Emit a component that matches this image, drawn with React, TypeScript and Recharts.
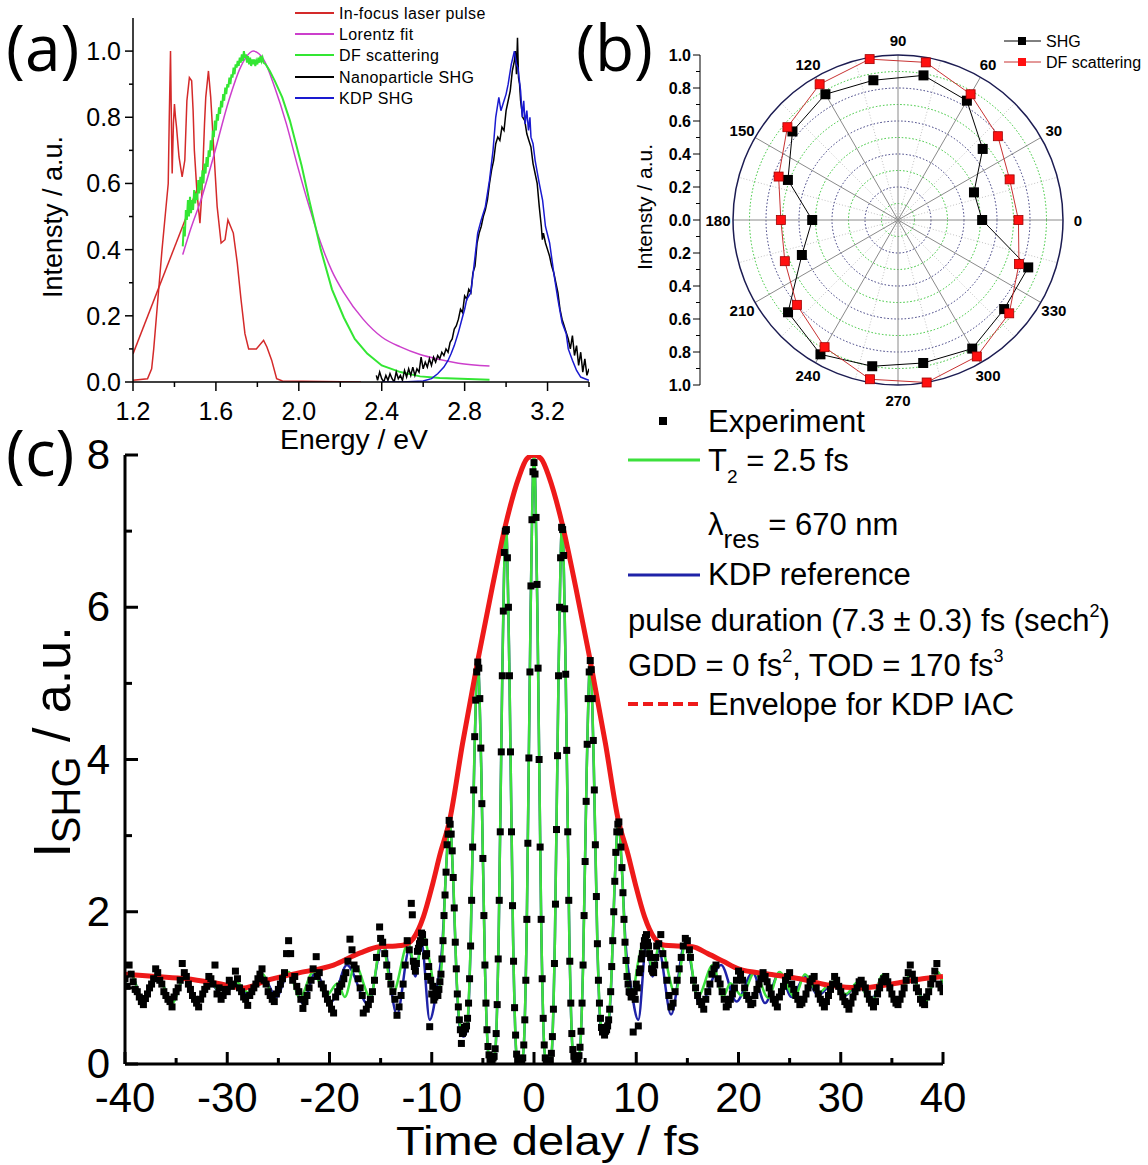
import React from 'react';
import {
  LineChart, Line, XAxis, YAxis, ComposedChart, Scatter,
  RadarChart, Radar, PolarGrid, PolarAngleAxis, PolarRadiusAxis,
} from 'recharts';

const FONT = '"Liberation Sans", Arial, Helvetica, sans-serif';
const LETTER_FONT = '"Open Sans", "Noto Sans", sans-serif';

// ---------------- Panel (a) data: x = energy (eV), y = intensity ----------------
const laserLine: number[][] = [[1.2, 0.085], [1.52, 0.6]];
const laserPulse: number[][] = [
  [1.2, 0.005], [1.27, 0.01], [1.29, 0.04], [1.3, 0.1], [1.32, 0.25], [1.34, 0.4], [1.355, 0.5],
  [1.37, 0.6], [1.375, 0.8], [1.381, 1.0], [1.386, 0.75], [1.389, 0.63], [1.395, 0.78], [1.4, 0.84],
  [1.405, 0.8], [1.41, 0.77], [1.422, 0.68], [1.437, 0.62], [1.45, 0.67], [1.46, 0.85], [1.472, 0.92],
  [1.483, 0.91], [1.49, 0.82], [1.496, 0.7], [1.509, 0.57], [1.523, 0.48], [1.533, 0.58], [1.545, 0.78],
  [1.551, 0.86], [1.564, 0.94], [1.575, 0.86], [1.588, 0.72], [1.606, 0.53], [1.625, 0.42], [1.644, 0.43],
  [1.658, 0.49], [1.671, 0.47], [1.684, 0.45], [1.703, 0.36], [1.721, 0.25], [1.74, 0.146], [1.758, 0.1],
  [1.795, 0.1], [1.83, 0.126], [1.846, 0.106], [1.869, 0.066], [1.893, 0.01], [1.921, 0.003], [2.3, 0.0],
];
const lorentzFit: number[][] = [
  [1.44, 0.385], [1.477, 0.46], [1.533, 0.56], [1.588, 0.68], [1.662, 0.85], [1.718, 0.95], [1.764, 0.995],
  [1.78, 1.0], [1.83, 0.975], [1.884, 0.89], [1.94, 0.78], [1.995, 0.65], [2.05, 0.53], [2.106, 0.42],
  [2.16, 0.335], [2.217, 0.27], [2.31, 0.19], [2.4, 0.136], [2.49, 0.106], [2.585, 0.083], [2.68, 0.068],
  [2.77, 0.057], [2.92, 0.048],
];
const dfScattering: number[][] = [
  [1.44, 0.41], [1.445, 0.47], [1.45, 0.44], [1.455, 0.52], [1.46, 0.49], [1.465, 0.55], [1.47, 0.5],
  [1.475, 0.56], [1.48, 0.51], [1.485, 0.55], [1.49, 0.52], [1.495, 0.58], [1.5, 0.54], [1.505, 0.57],
  [1.51, 0.55], [1.515, 0.61], [1.52, 0.57], [1.525, 0.62], [1.53, 0.58], [1.535, 0.64], [1.54, 0.6],
  [1.545, 0.66], [1.55, 0.63], [1.555, 0.68], [1.56, 0.65], [1.565, 0.7], [1.57, 0.68], [1.575, 0.73],
  [1.58, 0.7], [1.585, 0.76], [1.59, 0.74], [1.595, 0.79], [1.6, 0.76], [1.605, 0.81], [1.61, 0.79],
  [1.615, 0.83], [1.62, 0.81], [1.625, 0.85], [1.63, 0.83], [1.635, 0.87], [1.64, 0.85], [1.645, 0.89],
  [1.65, 0.87], [1.655, 0.9], [1.66, 0.89], [1.665, 0.92], [1.67, 0.9], [1.675, 0.93], [1.68, 0.92],
  [1.685, 0.95], [1.69, 0.93], [1.695, 0.96], [1.7, 0.95], [1.705, 0.97], [1.71, 0.955], [1.715, 0.98],
  [1.72, 0.965], [1.725, 0.99], [1.73, 0.97], [1.735, 1.0], [1.74, 0.98], [1.745, 0.99], [1.75, 0.965],
  [1.755, 0.985], [1.76, 0.96], [1.765, 0.98], [1.77, 0.955], [1.775, 0.975], [1.78, 0.96], [1.785, 0.975],
  [1.79, 0.955], [1.795, 0.97], [1.8, 0.96], [1.805, 0.98], [1.81, 0.965], [1.815, 0.985], [1.82, 0.97],
  [1.825, 0.98], [1.83, 0.965], [1.84, 0.96], [1.85, 0.95], [1.86, 0.94], [1.884, 0.91], [1.92, 0.86],
  [1.957, 0.79], [2.013, 0.655], [2.05, 0.55], [2.08, 0.47], [2.106, 0.4], [2.16, 0.28], [2.217, 0.195],
  [2.27, 0.13], [2.33, 0.086], [2.4, 0.05], [2.49, 0.03], [2.585, 0.017], [2.68, 0.012], [2.92, 0.007],
];
const nanoSHG: number[][] = [
  [2.374, 0.02], [2.38, 0.005], [2.39, 0.03], [2.4, 0.01], [2.41, 0.0], [2.42, 0.02], [2.43, 0.005],
  [2.44, 0.025], [2.45, 0.01], [2.46, 0.0], [2.47, 0.03], [2.48, 0.01], [2.49, 0.02], [2.5, 0.005],
  [2.51, 0.035], [2.52, 0.015], [2.53, 0.04], [2.54, 0.02], [2.55, 0.045], [2.56, 0.02], [2.57, 0.04],
  [2.58, 0.03], [2.59, 0.075], [2.6, 0.04], [2.61, 0.06], [2.62, 0.045], [2.63, 0.07], [2.64, 0.05],
  [2.65, 0.075], [2.66, 0.06], [2.67, 0.08], [2.68, 0.07], [2.69, 0.09], [2.7, 0.08], [2.71, 0.1],
  [2.72, 0.09], [2.73, 0.12], [2.74, 0.13], [2.75, 0.16], [2.76, 0.17], [2.77, 0.19], [2.78, 0.22],
  [2.79, 0.21], [2.8, 0.26], [2.81, 0.25], [2.82, 0.28], [2.83, 0.27], [2.84, 0.33], [2.85, 0.35],
  [2.86, 0.42], [2.87, 0.45], [2.88, 0.47], [2.89, 0.5], [2.9, 0.52], [2.91, 0.55], [2.92, 0.6],
  [2.93, 0.64], [2.94, 0.67], [2.95, 0.72], [2.96, 0.74], [2.97, 0.73], [2.98, 0.77], [2.99, 0.76],
  [3.0, 0.82], [3.01, 0.85], [3.02, 0.88], [3.03, 0.94], [3.04, 0.97], [3.045, 1.0], [3.05, 0.93],
  [3.055, 1.04], [3.06, 0.92], [3.065, 0.9], [3.07, 0.85], [3.08, 0.8], [3.09, 0.79], [3.1, 0.75],
  [3.11, 0.73], [3.12, 0.71], [3.13, 0.66], [3.14, 0.63], [3.15, 0.6], [3.16, 0.53], [3.17, 0.47],
  [3.175, 0.43], [3.18, 0.45], [3.19, 0.42], [3.2, 0.4], [3.21, 0.38], [3.22, 0.35], [3.23, 0.33],
  [3.24, 0.3], [3.25, 0.27], [3.26, 0.22], [3.27, 0.19], [3.28, 0.17], [3.29, 0.15], [3.3, 0.13],
  [3.31, 0.1], [3.32, 0.14], [3.33, 0.08], [3.34, 0.11], [3.35, 0.05], [3.36, 0.09], [3.37, 0.03],
  [3.38, 0.07], [3.39, 0.02], [3.4, 0.04],
];
const kdpSHG: number[][] = [
  [2.4, 0.0], [2.5, 0.0], [2.6, 0.003], [2.64, 0.01], [2.67, 0.025], [2.7, 0.045], [2.72, 0.065],
  [2.735, 0.086], [2.75, 0.11], [2.77, 0.15], [2.79, 0.197], [2.8, 0.22], [2.81, 0.25], [2.83, 0.27],
  [2.845, 0.35], [2.863, 0.45], [2.88, 0.49], [2.9, 0.53], [2.92, 0.61], [2.937, 0.7], [2.95, 0.8],
  [2.965, 0.86], [2.975, 0.82], [2.985, 0.84], [3.0, 0.87], [3.01, 0.9], [3.025, 0.96], [3.04, 1.0],
  [3.05, 0.96], [3.057, 0.95], [3.07, 0.88], [3.078, 0.8], [3.085, 0.85], [3.092, 0.78], [3.1, 0.82],
  [3.108, 0.76], [3.115, 0.8], [3.12, 0.74], [3.13, 0.72], [3.14, 0.67], [3.16, 0.6], [3.176, 0.55],
  [3.19, 0.47], [3.21, 0.42], [3.23, 0.33], [3.25, 0.25], [3.27, 0.18], [3.29, 0.146], [3.3, 0.1],
  [3.32, 0.066], [3.34, 0.035], [3.36, 0.015], [3.38, 0.01], [3.4, 0.005],
];
const aXTicks = [1.2, 1.4, 1.6, 1.8, 2.0, 2.2, 2.4, 2.6, 2.8, 3.0, 3.2, 3.4];
const aYTicks = [0, 0.1, 0.2, 0.3, 0.4, 0.5, 0.6, 0.7, 0.8, 0.9, 1.0];

// ---------------- Panel (b) data: polar ----------------
const polarAngles = [0, 20, 40, 60, 80, 100, 120, 140, 160, 180, 200, 220, 240, 260, 280, 300, 320, 340];
const shgPolar = [0.51, 0.49, 0.67, 0.835, 0.89, 0.86, 0.88, 0.835, 0.71, 0.52, 0.62, 0.87, 0.94, 0.9, 0.88, 0.9, 0.84, 0.84];
const dfPolar = [0.73, 0.72, 0.79, 0.88, 0.97, 0.99, 0.95, 0.875, 0.77, 0.71, 0.73, 0.8, 0.89, 0.98, 1.0, 0.955, 0.88, 0.78];
const angleTicks = [0, 30, 60, 90, 120, 150, 180, 210, 240, 270, 300, 330];
const minorSpokes = [15, 45, 75, 105, 135, 165, 195, 225, 255, 285, 315, 345];
const greenRings = [0.1, 0.3, 0.5, 0.7, 0.9];
const navyRings = [0.2, 0.4, 0.6, 0.8];
const bAxisTicks = [-1, -0.9, -0.8, -0.7, -0.6, -0.5, -0.4, -0.3, -0.2, -0.1, 0, 0.1, 0.2, 0.3, 0.4, 0.5, 0.6, 0.7, 0.8, 0.9, 1];

// ---------------- Panel (c) data: x = time delay (fs), y = I_SHG ----------------
const experimentA: number[][] = [
  [-40.0, 1.12], [-39.6, 1.3], [-39.2, 1.08], [-38.8, 0.95], [-38.4, 0.82], [-38.0, 0.86], [-37.6, 1.0],
  [-37.2, 1.12], [-36.8, 1.2], [-36.4, 1.05], [-36.0, 0.9], [-35.6, 0.82], [-35.2, 0.88], [-34.8, 1.0],
  [-34.4, 1.32], [-34.0, 1.15], [-33.6, 0.98], [-33.2, 0.85], [-32.8, 0.75], [-32.4, 0.92], [-32.0, 1.02],
  [-31.6, 1.12], [-31.2, 1.3], [-30.8, 1.0], [-30.4, 0.9], [-30.0, 0.95], [-29.6, 1.02], [-29.2, 1.22],
  [-28.8, 1.0], [-28.4, 0.88], [-28.0, 0.77], [-27.6, 0.95], [-27.2, 1.05], [-26.8, 1.18], [-26.4, 1.1],
  [-26.0, 0.95], [-25.6, 0.85], [-25.2, 0.92], [-24.8, 1.05], [-24.4, 1.2], [-24.0, 1.62], [-23.8, 1.45],
  [-23.4, 1.15], [-23.0, 0.95], [-22.6, 0.73], [-22.2, 0.9], [-21.8, 1.1], [-21.3, 1.41], [-21.0, 1.2],
  [-20.6, 1.0], [-20.2, 0.85], [-19.8, 0.72], [-19.6, 0.67], [-19.2, 0.95], [-18.8, 1.05], [-18.4, 1.2],
  [-18.0, 1.64], [-17.8, 1.5], [-17.4, 1.25], [-17.0, 1.0], [-16.7, 0.67], [-16.4, 0.72], [-16.0, 0.85],
  [-15.6, 1.1], [-15.1, 1.8], [-14.8, 1.6], [-14.4, 1.3], [-14.0, 1.05], [-13.6, 0.85], [-13.4, 0.64],
  [-13.0, 0.9], [-12.6, 1.3], [-12.2, 1.5], [-12.0, 2.11], [-11.9, 1.96],
  [-11.8, 1.35], [-11.6, 1.22], [-11.4, 1.48], [-11.2, 1.58], [-11.0, 1.72], [-10.8, 1.6], [-10.6, 1.42],
  [-10.4, 1.15], [-10.2, 0.49], [-10.0, 0.92], [-9.8, 0.84], [-9.6, 0.95], [-9.4, 0.9], [-9.2, 1.08],
  [-9.0, 1.38], [-8.8, 1.95], [-8.6, 2.52], [-8.4, 3.02], [-8.2, 3.15], [-8.0, 2.8], [-7.8, 2.05],
  [-7.6, 1.25], [-7.4, 0.75], [-7.2, 0.45], [-7.1, 0.27], [-7.0, 0.4], [-6.8, 0.48], [-6.6, 0.5],
  [-6.4, 0.8], [-6.2, 1.55], [-6.0, 2.85], [-5.8, 4.3], [-5.6, 5.15], [-5.4, 5.2], [-5.2, 4.15],
  [-5.0, 2.7], [-4.8, 1.3], [-4.6, 0.45], [-4.4, 0.12], [-4.2, 0.04], [-4.0, 0.08], [-3.8, 0.2],
  [-3.6, 0.78], [-3.4, 2.15], [-3.2, 4.1], [-3.0, 5.95], [-2.8, 7.0], [-2.6, 6.65], [-2.4, 5.1],
  [-2.2, 3.05], [-2.0, 1.35], [-1.8, 0.38], [-1.6, 0.05], [-1.4, 0.02], [-1.2, 0.03], [-1.0, 0.25],
  [-0.8, 1.1], [-0.6, 2.9], [-0.4, 5.15], [-0.2, 7.15], [0.0, 7.9],
  [0.1, 7.75], [0.3, 6.3], [0.5, 4.0], [0.7, 1.9], [0.9, 0.6], [1.1, 0.08], [1.3, 0.02], [1.5, 0.03],
  [1.7, 0.14], [1.9, 0.72], [2.1, 2.1], [2.3, 4.05], [2.5, 6.0], [2.7, 7.05], [2.9, 6.68], [3.1, 5.12],
  [3.3, 3.05], [3.5, 1.35], [3.7, 0.4], [3.9, 0.1], [4.1, 0.05], [4.3, 0.07], [4.5, 0.22], [4.7, 0.8],
  [4.9, 1.95], [5.1, 3.45], [5.3, 4.8], [5.5, 5.3], [5.7, 4.8], [5.9, 3.6], [6.1, 2.2], [6.3, 1.1],
  [6.5, 0.6], [6.7, 0.42], [6.9, 0.38], [7.1, 0.45], [7.3, 0.58], [7.5, 0.95], [7.7, 1.62], [7.9, 2.4],
  [8.1, 3.05], [8.3, 3.18], [8.5, 2.85], [8.7, 2.25], [8.9, 1.6], [9.1, 1.15], [9.3, 0.95], [9.5, 0.88],
  [9.7, 0.42], [9.9, 0.85], [10.1, 1.0], [10.3, 1.2], [10.5, 1.38], [10.7, 1.55], [10.9, 1.66], [11.1, 1.6],
  [11.3, 1.45], [11.5, 1.25], [11.7, 1.2], [11.9, 1.4],
  [12.2, 1.58], [12.6, 1.45], [13.0, 1.1], [13.4, 0.75], [13.8, 0.95], [14.2, 1.25], [14.6, 1.55],
  [15.0, 1.62], [15.3, 1.4], [15.6, 1.1], [16.0, 0.9], [16.4, 0.78], [16.8, 0.85], [17.2, 1.05],
  [17.6, 1.25], [18.0, 1.12], [18.4, 0.95], [18.8, 0.75], [19.2, 0.85], [19.6, 1.0], [20.0, 1.22],
  [20.4, 1.1], [20.8, 0.9], [21.2, 0.78], [21.6, 0.9], [22.0, 1.05], [22.4, 1.2], [22.8, 1.08],
  [23.2, 0.92], [23.6, 0.8], [24.0, 0.88], [24.4, 1.02], [24.8, 1.15], [25.2, 1.05], [25.6, 0.9],
  [26.0, 0.78], [26.4, 0.85], [26.8, 1.0], [27.2, 1.12], [27.6, 1.0], [28.0, 0.85], [28.4, 0.75],
  [28.8, 0.9], [29.2, 1.05], [29.6, 1.1], [30.0, 0.95], [30.4, 0.82], [30.8, 0.72], [31.2, 0.88],
  [31.6, 1.0], [32.0, 1.1], [32.4, 1.0], [32.8, 0.85], [33.2, 0.75], [33.6, 0.92], [34.0, 1.08],
  [34.4, 1.15], [34.8, 1.0], [35.2, 0.85], [35.6, 0.78], [36.0, 0.92], [36.4, 1.1], [36.8, 1.3],
  [37.2, 1.1], [37.6, 0.95], [38.0, 0.8], [38.4, 0.88], [38.8, 1.05], [39.2, 1.22], [39.6, 1.05], [40.0, 0.95],
];
const experimentB: number[][] = [
  [-39.8, 1.02], [-39.4, 1.18], [-39.0, 0.98], [-38.6, 0.88], [-38.2, 0.78], [-37.8, 0.92], [-37.4, 1.05],
  [-37.0, 1.25], [-36.6, 1.1], [-36.2, 0.95], [-35.8, 0.85], [-35.4, 0.75], [-35.0, 0.95], [-34.6, 1.1],
  [-34.2, 1.2], [-33.8, 1.05], [-33.4, 0.9], [-33.0, 0.8], [-32.6, 0.85], [-32.2, 0.98], [-31.8, 1.15],
  [-31.4, 1.05], [-31.0, 0.92], [-30.6, 0.85], [-30.2, 0.98], [-29.8, 1.1], [-29.4, 1.05], [-29.0, 1.12],
  [-28.6, 0.95], [-28.2, 0.85], [-27.8, 0.9], [-27.4, 1.0], [-27.0, 1.12], [-26.6, 1.25], [-26.2, 1.05],
  [-25.8, 0.9], [-25.4, 0.82], [-25.0, 0.98], [-24.6, 1.12], [-24.2, 1.45], [-23.6, 1.1], [-23.2, 1.02],
  [-22.8, 0.85], [-22.4, 0.82], [-22.0, 1.0], [-21.6, 1.25], [-21.2, 1.15], [-20.8, 1.05], [-20.4, 0.92],
  [-20.0, 0.8], [-19.4, 0.88], [-19.0, 1.02], [-18.6, 1.12], [-18.2, 1.35], [-17.6, 1.3], [-17.2, 1.12],
  [-16.8, 0.9], [-16.2, 0.78], [-15.8, 0.95], [-15.4, 1.4], [-15.0, 1.65], [-14.6, 1.45], [-14.2, 1.15],
  [-13.8, 0.95], [-13.2, 0.75], [-12.8, 1.05], [-12.4, 1.62],
  [-11.7, 1.28], [-11.5, 1.32], [-11.3, 1.52], [-11.1, 1.62], [-10.9, 1.7], [-10.7, 1.6], [-10.5, 1.45],
  [-10.3, 1.28], [-10.1, 1.1], [-9.9, 1.02], [-9.7, 0.88], [-9.5, 0.95], [-9.3, 0.98], [-9.1, 1.18],
  [-8.9, 1.62], [-8.7, 2.22], [-8.5, 2.88], [-8.3, 3.2], [-8.1, 3.02], [-7.9, 2.45], [-7.7, 1.6],
  [-7.5, 0.92], [-7.3, 0.58], [-6.9, 0.42], [-6.7, 0.46], [-6.5, 0.6], [-6.3, 1.12], [-6.1, 2.15],
  [-5.9, 3.6], [-5.7, 4.78], [-5.5, 5.28], [-5.3, 4.8], [-5.1, 3.42], [-4.9, 1.95], [-4.7, 0.8],
  [-4.5, 0.23], [-4.3, 0.06], [-4.1, 0.05], [-3.9, 0.1], [-3.7, 0.4], [-3.5, 1.38], [-3.3, 3.05],
  [-3.1, 5.1], [-2.9, 6.72], [-2.7, 7.02], [-2.5, 6.0], [-2.3, 4.1], [-2.1, 2.08], [-1.9, 0.74],
  [-1.7, 0.13], [-1.5, 0.02], [-1.3, 0.01], [-1.1, 0.08], [-0.9, 0.58], [-0.7, 1.9], [-0.5, 4.02],
  [-0.3, 6.28], [-0.1, 7.78],
  [0.2, 7.18], [0.4, 5.2], [0.6, 2.85], [0.8, 1.12], [1.0, 0.25], [1.2, 0.02], [1.4, 0.0], [1.6, 0.05],
  [1.8, 0.36], [2.0, 1.32], [2.2, 3.08], [2.4, 5.1], [2.6, 6.65], [2.8, 7.02], [3.0, 5.98], [3.2, 4.12],
  [3.4, 2.15], [3.6, 0.8], [3.8, 0.19], [4.0, 0.06], [4.2, 0.05], [4.4, 0.11], [4.6, 0.43], [4.8, 1.3],
  [5.0, 2.66], [5.2, 4.2], [5.4, 5.15], [5.6, 5.18], [5.8, 4.25], [6.0, 2.88], [6.2, 1.58], [6.4, 0.8],
  [6.6, 0.48], [6.8, 0.44], [7.0, 0.43], [7.2, 0.5], [7.4, 0.72], [7.6, 1.28], [7.8, 2.0], [8.0, 2.78],
  [8.2, 3.15], [8.4, 3.05], [8.6, 2.58], [8.8, 1.9], [9.0, 1.36], [9.2, 1.05], [9.4, 0.94], [9.6, 0.92],
  [9.8, 0.95], [10.0, 1.05], [10.2, 0.5], [10.4, 1.25], [10.6, 1.45], [10.8, 1.62], [11.0, 1.7],
  [11.2, 1.55], [11.4, 1.4], [11.6, 1.22], [11.8, 1.3], [12.0, 1.55],
  [12.4, 1.7], [12.8, 1.3], [13.2, 0.9], [13.6, 0.8], [14.0, 1.1], [14.4, 1.4], [14.8, 1.65], [15.2, 1.5],
  [15.8, 1.0], [16.2, 0.82], [16.6, 0.72], [17.0, 0.95], [17.4, 1.18], [17.8, 1.3], [18.2, 1.05],
  [18.6, 0.85], [19.0, 0.78], [19.4, 0.92], [19.8, 1.1], [20.2, 1.18], [20.6, 1.0], [21.0, 0.85],
  [21.4, 0.8], [21.8, 0.98], [22.2, 1.12], [22.6, 1.15], [23.0, 1.0], [23.4, 0.85], [23.8, 0.75],
  [24.2, 0.95], [24.6, 1.1], [25.0, 1.2], [25.4, 0.98], [25.8, 0.85], [26.2, 0.8], [26.6, 0.92],
  [27.0, 1.08], [27.4, 1.15], [27.8, 0.92], [28.2, 0.8], [28.6, 0.82], [29.0, 0.98], [29.4, 1.15],
  [29.8, 1.02], [30.2, 0.88], [30.6, 0.78], [31.0, 0.8], [31.4, 0.95], [31.8, 1.08], [32.2, 1.05],
  [32.6, 0.92], [33.0, 0.8], [33.4, 0.82], [33.8, 1.0], [34.2, 1.12], [34.6, 1.08], [35.0, 0.92],
  [35.4, 0.8], [35.8, 0.85], [36.2, 1.0], [36.6, 1.2], [37.0, 1.18], [37.4, 1.0], [37.8, 0.85],
  [38.2, 0.78], [38.6, 0.95], [39.0, 1.12], [39.4, 1.32], [39.8, 1.0],
];
const t2Fit: number[][] = [
  [-40, 1.06], [-39.5, 1.21], [-38.2, 0.8], [-36.9, 1.19], [-35.4, 0.8], [-34.1, 1.17], [-33.0, 0.8],
  [-31.7, 1.08], [-30.5, 0.92], [-29.2, 1.08], [-27.8, 0.93], [-26.5, 1.18], [-25.5, 0.88], [-24.0, 1.21],
  [-22.9, 0.87], [-21.6, 1.21], [-20.3, 0.9], [-19.2, 1.06], [-18.5, 0.88], [-17.5, 1.3], [-16.0, 0.88],
  [-14.9, 1.63], [-13.8, 0.93], [-12.3, 1.59], [-11.6, 1.24], [-10.8, 1.67], [-10.2, 1.35], [-9.6, 0.93],
  [-9.3, 0.97], [-8.95, 1.47], [-8.6, 2.56], [-8.25, 3.2], [-7.9, 2.42], [-7.55, 1.08], [-7.2, 0.48],
  [-6.875, 0.43], [-6.55, 0.51], [-6.2, 1.58], [-5.85, 3.94], [-5.5, 5.3], [-5.15, 3.83], [-4.8, 1.29],
  [-4.45, 0.14], [-4.125, 0.05], [-3.8, 0.17], [-3.45, 1.71], [-3.1, 5.13], [-2.75, 7.1], [-2.4, 5.11],
  [-2.05, 1.68], [-1.7, 0.12], [-1.375, 0], [-1.05, 0.14], [-0.7, 1.89], [-0.35, 5.76], [0, 8],
  [0.35, 5.76], [0.7, 1.89], [1.05, 0.14], [1.375, 0], [1.7, 0.12], [2.05, 1.68], [2.4, 5.11], [2.75, 7.1],
  [3.1, 5.13], [3.45, 1.71], [3.8, 0.17], [4.125, 0.05], [4.45, 0.14], [4.8, 1.29], [5.15, 3.83],
  [5.5, 5.3], [5.85, 3.94], [6.2, 1.58], [6.55, 0.51], [6.875, 0.43], [7.2, 0.48], [7.55, 1.08],
  [7.9, 2.42], [8.25, 3.2], [8.6, 2.56], [8.95, 1.47], [9.3, 0.97], [9.6, 0.93], [10.2, 1.35], [10.9, 1.67],
  [11.6, 1.24], [12.3, 1.59], [13.8, 0.93], [14.9, 1.63], [16.0, 0.88], [17.5, 1.3], [18.5, 0.88],
  [19.2, 1.06], [20.3, 0.9], [21.6, 1.21], [22.9, 0.87], [24.0, 1.21], [25.5, 0.88], [26.5, 1.18],
  [27.8, 0.93], [29.2, 1.08], [30.5, 0.92], [31.7, 1.08], [33.0, 0.8], [34.1, 1.17], [35.4, 0.8],
  [36.9, 1.19], [38.2, 0.8], [39.5, 1.21], [40, 1.06],
];
const kdpRef: number[][] = [
  [-40, 1.05], [-39.5, 1.2], [-38.2, 0.82], [-36.9, 1.18], [-35.4, 0.82], [-34.1, 1.15], [-33.0, 0.83],
  [-31.7, 1.06], [-30.4, 0.9], [-29.2, 1.05], [-27.8, 0.9], [-26.5, 1.15], [-25.2, 0.88], [-24.0, 1.2],
  [-22.6, 0.8], [-21.4, 1.2], [-19.8, 0.82], [-18.3, 1.3], [-16.2, 0.78], [-14.8, 1.6], [-13.4, 0.65],
  [-12.2, 1.5], [-11.6, 1.15], [-11.0, 1.6], [-10.2, 0.58], [-9.5, 1.0], [-8.95, 1.6], [-8.6, 2.55],
  [-8.25, 3.2], [-7.9, 2.4], [-7.55, 1.05], [-7.2, 0.42], [-6.875, 0.36], [-6.55, 0.45], [-6.2, 1.55],
  [-5.85, 3.9], [-5.5, 5.3], [-5.15, 3.83], [-4.8, 1.29], [-4.45, 0.12], [-4.125, 0.03], [-3.8, 0.15],
  [-3.45, 1.7], [-3.1, 5.13], [-2.75, 7.1], [-2.4, 5.11], [-2.05, 1.68], [-1.7, 0.1], [-1.375, 0],
  [-1.05, 0.14], [-0.7, 1.89], [-0.35, 5.76], [0, 8], [0.35, 5.76], [0.7, 1.89], [1.05, 0.14], [1.375, 0],
  [1.7, 0.1], [2.05, 1.68], [2.4, 5.11], [2.75, 7.1], [3.1, 5.13], [3.45, 1.7], [3.8, 0.15], [4.125, 0.03],
  [4.45, 0.12], [4.8, 1.29], [5.15, 3.83], [5.5, 5.3], [5.85, 3.9], [6.2, 1.55], [6.55, 0.45],
  [6.875, 0.36], [7.2, 0.42], [7.55, 1.05], [7.9, 2.4], [8.25, 3.2], [8.6, 2.55], [8.95, 1.6], [9.5, 1.0],
  [10.2, 0.58], [11.0, 1.6], [11.6, 1.15], [12.2, 1.5], [13.4, 0.65], [14.8, 1.6], [16.2, 0.78],
  [18.3, 1.3], [19.8, 0.82], [21.4, 1.2], [22.6, 0.8], [24.0, 1.2], [25.2, 0.88], [26.5, 1.15], [27.8, 0.9],
  [29.2, 1.05], [30.4, 0.9], [31.7, 1.06], [33.0, 0.83], [34.1, 1.15], [35.4, 0.82], [36.9, 1.18],
  [38.2, 0.82], [39.5, 1.2], [40, 1.05],
];
const envelope: number[][] = [
  [-40, 1.18], [-37, 1.15], [-34, 1.12], [-31, 1.06], [-28.4, 1.0], [-26.1, 1.1], [-22.9, 1.2],
  [-19.6, 1.3], [-17, 1.46], [-15.1, 1.54], [-13.5, 1.55], [-12.8, 1.56], [-11.8, 1.65], [-10.8, 1.94],
  [-9.9, 2.37], [-9.2, 2.75], [-8.25, 3.2], [-7, 4.2], [-5.5, 5.3], [-4.1, 6.25], [-2.75, 7.1],
  [-1.5, 7.7], [-0.7, 7.95], [0, 8.0], [0.7, 7.95], [1.5, 7.7], [2.75, 7.1], [4.1, 6.25], [5.5, 5.3],
  [7, 4.2], [8.25, 3.2], [9.2, 2.75], [9.9, 2.37], [10.8, 1.94], [11.8, 1.65], [12.8, 1.56], [14, 1.55],
  [15.5, 1.54], [17, 1.45], [18.5, 1.35], [20, 1.25], [23, 1.18], [26, 1.12], [29, 1.03], [32, 1.0],
  [35, 1.05], [38, 1.12], [40, 1.15],
];
const cXTicks = [-40, -35, -30, -25, -20, -15, -10, -5, 0, 5, 10, 15, 20, 25, 30, 35, 40];
const cYTicks = [0, 1, 2, 3, 4, 5, 6, 7, 8];

const toXY = (a: number[][]) => a.map(([x, y]) => ({ x, y }));

// ---------------- tick renderers ----------------
function AYTick(p: any) {
  const v = p.payload.value;
  const major = Math.round(v * 10) % 2 === 0;
  return (
    <g>
      <line x1={p.x} x2={p.x - (major ? 8 : 4)} y1={p.y} y2={p.y} stroke="#000" strokeWidth={1.5} />
      {major && (
        <text x={p.x - 12} y={p.y + 9} textAnchor="end" fontSize={25} fontFamily={FONT} fill="#000">
          {v.toFixed(1)}
        </text>
      )}
    </g>
  );
}
function AXTick(p: any) {
  const v = p.payload.value;
  const major = Math.round((v - 1.2) * 10) % 4 === 0;
  return (
    <g>
      <line x1={p.x} x2={p.x} y1={p.y} y2={p.y + (major ? 9 : 5)} stroke="#000" strokeWidth={1.5} />
      {major && (
        <text x={p.x} y={p.y + 38} textAnchor="middle" fontSize={25} fontFamily={FONT} fill="#000">
          {v.toFixed(1)}
        </text>
      )}
    </g>
  );
}
function BYTick(p: any) {
  const v = p.payload.value;
  const major = Math.round(Math.abs(v) * 10) % 2 === 0;
  return (
    <g>
      <line x1={p.x} x2={p.x - (major ? 7 : 4)} y1={p.y} y2={p.y} stroke="#000" strokeWidth={1} />
      {major && (
        <text x={p.x - 9} y={p.y + 5.5} textAnchor="end" fontSize={16} fontWeight="bold" fontFamily={FONT} fill="#000">
          {Math.abs(v).toFixed(1)}
        </text>
      )}
    </g>
  );
}
function AngleTick(p: any) {
  return (
    <text x={p.x} y={p.y + 5.5} textAnchor="middle" fontSize={15} fontWeight="bold" fontFamily={FONT} fill="#000">
      {p.payload.value}
    </text>
  );
}
function CYTick(p: any) {
  const v = p.payload.value;
  const major = v % 2 === 0;
  return (
    <g>
      <line x1={p.x} x2={p.x + (major ? 13 : 7)} y1={p.y} y2={p.y} stroke="#000" strokeWidth={3} />
      {major && (
        <text x={p.x - 15} y={p.y + 14} textAnchor="end" fontSize={42} fontFamily={FONT} fill="#000">
          {v}
        </text>
      )}
    </g>
  );
}
function CXTick(p: any) {
  const v = p.payload.value;
  const major = v % 10 === 0;
  return (
    <g>
      <line x1={p.x} x2={p.x} y1={p.y} y2={p.y - (major ? 12 : 6)} stroke="#000" strokeWidth={3} />
      {major && (
        <text x={p.x} y={p.y + 48} textAnchor="middle" fontSize={42} fontFamily={FONT} fill="#000">
          {v < 0 ? '-' + Math.abs(v) : String(v)}
        </text>
      )}
    </g>
  );
}

const squareDot = (fill: string, size: number, stroke?: string) => (p: any) => {
  if (p.cx == null || p.cy == null) return <g key={p.key} />;
  return (
    <rect key={p.key ?? `${p.cx}-${p.cy}`} x={p.cx - size / 2} y={p.cy - size / 2} width={size} height={size}
      fill={fill} stroke={stroke ?? 'none'} strokeWidth={stroke ? 0.8 : 0} />
  );
};
const expShape = (p: any) => (
  <rect x={p.cx - 3.5} y={p.cy - 3.5} width={7} height={7} fill="#000" />
);

export default function App() {
  const R = 165;
  const polarData = polarAngles.map((a, i) => ({ angle: a, shg: shgPolar[i], df: dfPolar[i] }));
  const expPoints = toXY(experimentA.concat(experimentB));
  return (
    <div style={{ position: 'absolute', left: 0, top: 0, width: 1148, height: 1165, background: '#fff', overflow: 'hidden' }}>
      {/* Panel (a) */}
      <div style={{ position: 'absolute', left: 0, top: 0 }}>
        <LineChart width={600} height={460} margin={{ top: 18, right: 11, bottom: 0, left: 0 }}>
          <XAxis type="number" dataKey="x" domain={[1.2, 3.4]} ticks={aXTicks} interval={0} height={78}
            tickSize={0} tickMargin={0} tickLine={false} tick={AXTick} axisLine={{ stroke: '#000', strokeWidth: 1.5 }} allowDataOverflow />
          <YAxis type="number" dataKey="y" domain={[0, 1.1]} ticks={aYTicks} interval={0} width={133}
            tickSize={0} tickMargin={0} tickLine={false} tick={AYTick} axisLine={{ stroke: '#000', strokeWidth: 1.5 }} allowDataOverflow />
          <Line data={toXY(laserLine)} dataKey="y" type="linear" stroke="#d42a2a" strokeWidth={1.5} dot={false} isAnimationActive={false} />
          <Line data={toXY(laserPulse)} dataKey="y" type="linear" stroke="#d42a2a" strokeWidth={1.5} dot={false} isAnimationActive={false} />
          <Line data={toXY(lorentzFit)} dataKey="y" type="monotone" stroke="#cc3fcc" strokeWidth={1.5} dot={false} isAnimationActive={false} />
          <Line data={toXY(dfScattering)} dataKey="y" type="linear" stroke="#33e633" strokeWidth={2} dot={false} isAnimationActive={false} />
          <Line data={toXY(nanoSHG)} dataKey="y" type="linear" stroke="#000" strokeWidth={1.5} dot={false} isAnimationActive={false} />
          <Line data={toXY(kdpSHG)} dataKey="y" type="linear" stroke="#1a1ad0" strokeWidth={1.5} dot={false} isAnimationActive={false} />
        </LineChart>
      </div>

      {/* Panel (b) left radial scale */}
      <div style={{ position: 'absolute', left: 600, top: 0 }}>
        <ComposedChart width={120} height={420} data={[{ r: -1 }, { r: 1 }]} margin={{ top: 55, right: 0, bottom: 35, left: 0 }}>
          <XAxis hide />
          <YAxis type="number" domain={[-1, 1]} ticks={bAxisTicks} interval={0} width={100}
            tickSize={0} tickMargin={0} tickLine={false} tick={BYTick} axisLine={{ stroke: '#000', strokeWidth: 1 }} />
          <Line dataKey="r" stroke="none" dot={false} isAnimationActive={false} />
        </ComposedChart>
      </div>

      {/* Panel (b) polar */}
      <div style={{ position: 'absolute', left: 600, top: 0 }}>
        <RadarChart width={548} height={440} cx={298} cy={220} outerRadius={R} startAngle={0} endAngle={360}
          data={polarData} margin={{ top: 0, right: 0, bottom: 0, left: 0 }}>
          <PolarGrid gridType="circle" radialLines polarAngles={minorSpokes} polarRadius={[]} stroke="#c4c4c4" strokeDasharray="1 2" />
          <PolarGrid gridType="circle" radialLines={false} polarAngles={[]} polarRadius={greenRings.map((v) => v * R)} stroke="#2fc42f" strokeDasharray="1.5 2" />
          <PolarGrid gridType="circle" radialLines={false} polarAngles={[]} polarRadius={navyRings.map((v) => v * R)} stroke="#33337a" strokeDasharray="1.5 2" />
          <PolarGrid gridType="circle" radialLines polarAngles={angleTicks} polarRadius={[]} stroke="#8a8a8a" />
          <PolarAngleAxis dataKey="angle" type="number" domain={[0, 360]} ticks={angleTicks} tickLine={false} tickSize={15}
            axisLineType="circle" axisLine={{ stroke: '#1c1c52', strokeWidth: 1.5 }} tick={AngleTick} />
          <PolarRadiusAxis type="number" domain={[0, 1]} tick={false} axisLine={false} />
          <Radar dataKey="shg" stroke="#000" strokeWidth={1} fill="none" fillOpacity={0} dot={squareDot('#000', 10)} isAnimationActive={false} />
          <Radar dataKey="df" stroke="#c83232" strokeWidth={1} fill="none" fillOpacity={0} dot={squareDot('#ff1010', 9, '#a00000')} isAnimationActive={false} />
        </RadarChart>
      </div>

      {/* Panel (c) */}
      <div style={{ position: 'absolute', left: 0, top: 400 }}>
        <ComposedChart width={1000} height={765} margin={{ top: 55, right: 57, bottom: 0, left: 0 }}>
          <XAxis type="number" dataKey="x" domain={[-40, 40]} ticks={cXTicks} interval={0} height={101}
            tickSize={0} tickMargin={0} tickLine={false} tick={CXTick} axisLine={{ stroke: '#000', strokeWidth: 3 }} allowDataOverflow />
          <YAxis type="number" dataKey="y" domain={[0, 8]} ticks={cYTicks} interval={0} width={125}
            tickSize={0} tickMargin={0} tickLine={false} tick={CYTick} axisLine={{ stroke: '#000', strokeWidth: 3 }} allowDataOverflow />
          <Scatter data={expPoints} dataKey="y" fill="#000" shape={expShape} isAnimationActive={false} />
          <Line data={toXY(kdpRef)} dataKey="y" type="monotone" stroke="#1f23a8" strokeWidth={2.5} dot={false} isAnimationActive={false} />
          <Line data={toXY(t2Fit)} dataKey="y" type="monotone" stroke="#3ce03c" strokeWidth={2.5} dot={false} isAnimationActive={false} />
          <Line data={toXY(envelope)} dataKey="y" type="monotone" stroke="#ee1a1a" strokeWidth={5} dot={false} isAnimationActive={false} />
        </ComposedChart>
      </div>

      {/* Text overlay: panel letters, axis titles, legends */}
      <svg width={1148} height={1165} style={{ position: 'absolute', left: 0, top: 0, pointerEvents: 'none' }}>
        <text x={6} y={71} fontSize={64} fontFamily={LETTER_FONT} fill="#000">(a)</text>
        <text x={576} y={71} fontSize={64} fontFamily={LETTER_FONT} fill="#000">(b)</text>
        <text x={6} y={476} fontSize={64} fontFamily={LETTER_FONT} fill="#000">(c)</text>

        {/* (a) titles */}
        <text x={280} y={449} fontSize={27} fontFamily={FONT} textLength={148} lengthAdjust="spacingAndGlyphs">Energy / eV</text>
        <text x={0} y={0} transform="translate(62,217) rotate(-90)" textAnchor="middle" fontSize={27} fontFamily={FONT}>Intensty / a.u.</text>

        {/* (a) legend */}
        {[
          { c: '#d42a2a', t: 'In-focus laser pulse', y: 13 },
          { c: '#cc3fcc', t: 'Lorentz fit', y: 34 },
          { c: '#33e633', t: 'DF scattering', y: 55 },
          { c: '#000', t: 'Nanoparticle SHG', y: 77 },
          { c: '#1a1ad0', t: 'KDP SHG', y: 98 },
        ].map((it) => (
          <g key={it.t}>
            <line x1={295} x2={334} y1={it.y} y2={it.y} stroke={it.c} strokeWidth={2} />
            <text x={339} y={it.y + 6} fontSize={16} fontFamily={FONT} letterSpacing={0.4}>{it.t}</text>
          </g>
        ))}

        {/* (b) title + legend */}
        <text x={0} y={0} transform="translate(652,207) rotate(-90)" textAnchor="middle" fontSize={21} fontFamily={FONT}>Intensty / a.u.</text>
        <line x1={1004} x2={1041} y1={41} y2={41} stroke="#000" strokeWidth={1} />
        <rect x={1018} y={37} width={8} height={8} fill="#000" />
        <text x={1046} y={47} fontSize={16} fontFamily={FONT}>SHG</text>
        <line x1={1004} x2={1041} y1={62} y2={62} stroke="#c83232" strokeWidth={1} />
        <rect x={1018} y={58} width={8} height={8} fill="#ff1010" />
        <text x={1046} y={68} fontSize={16} fontFamily={FONT}>DF scattering</text>

        {/* (c) titles */}
        <text x={396} y={1155} fontSize={41} fontFamily={FONT} textLength={304} lengthAdjust="spacingAndGlyphs">Time delay / fs</text>
        <text x={0} y={0} transform="translate(70,742) rotate(-90)" textAnchor="middle" fontSize={52} fontFamily={FONT}>
          I<tspan fontSize={40} dy={10}>SHG</tspan><tspan dy={-10}> / a.u.</tspan>
        </text>

        {/* (c) legend */}
        <rect x={659} y={417} width={8} height={8} fill="#000" />
        <text x={708} y={432} fontSize={31} fontFamily={FONT}>Experiment</text>
        <line x1={628} x2={700} y1={460} y2={460} stroke="#3ce03c" strokeWidth={3} />
        <text x={708} y={471} fontSize={31} fontFamily={FONT}>T<tspan fontSize={19} dy={12}>2</tspan><tspan dy={-12}> = 2.5 fs</tspan></text>
        <text x={708} y={535} fontSize={31} fontFamily={FONT}>λ<tspan fontSize={26} dy={13}>res</tspan><tspan dy={-13}> = 670 nm</tspan></text>
        <line x1={628} x2={700} y1={575} y2={575} stroke="#1f23a8" strokeWidth={3} />
        <text x={708} y={585} fontSize={31} fontFamily={FONT}>KDP reference</text>
        <text x={628} y={631} fontSize={31} fontFamily={FONT}>pulse duration (7.3 ± 0.3) fs (sech<tspan fontSize={18} dy={-14}>2</tspan><tspan dy={14}>)</tspan></text>
        <text x={628} y={676} fontSize={31} fontFamily={FONT}>GDD = 0 fs<tspan fontSize={18} dy={-14}>2</tspan><tspan dy={14}>, TOD = 170 fs</tspan><tspan fontSize={18} dy={-14}>3</tspan></text>
        <line x1={628} x2={700} y1={704} y2={704} stroke="#ee1a1a" strokeWidth={4} strokeDasharray="10 5" />
        <text x={708} y={715} fontSize={31} fontFamily={FONT}>Envelope for KDP IAC</text>
      </svg>
    </div>
  );
}
